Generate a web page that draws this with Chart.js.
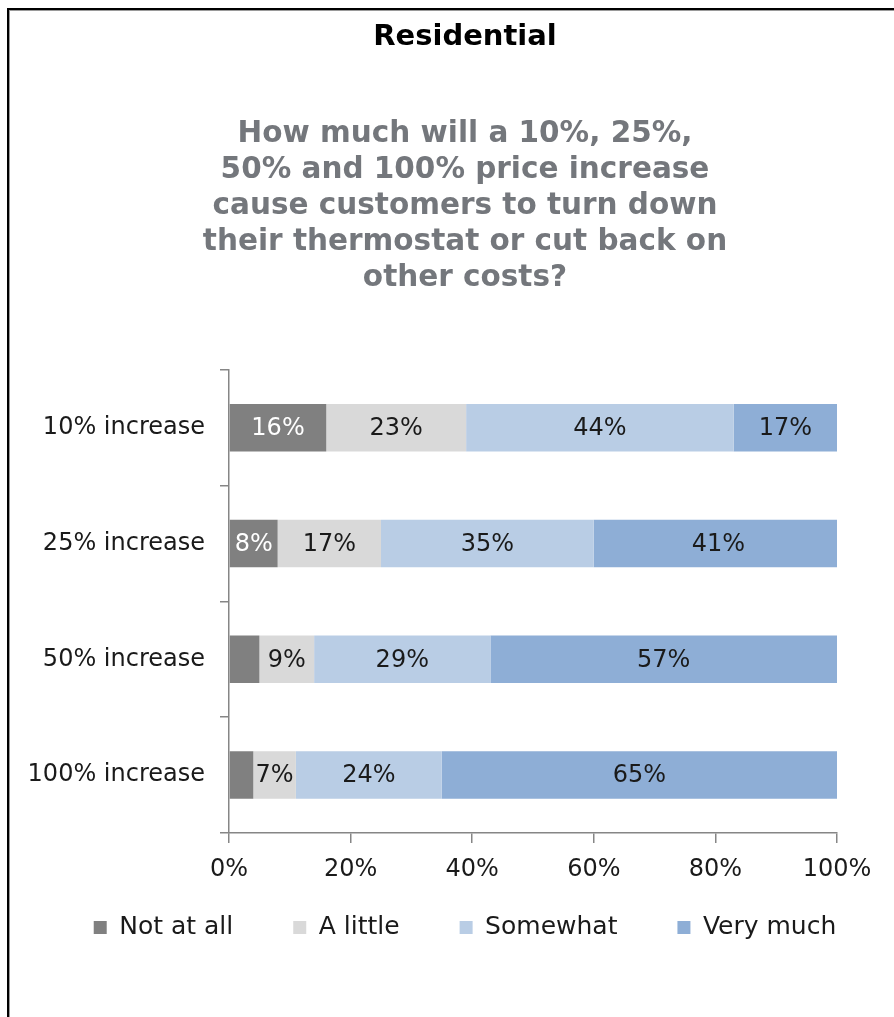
<!DOCTYPE html>
<html>
<head>
<meta charset="utf-8">
<script src="https://cdn.jsdelivr.net/npm/chart.js@4.4.1/dist/chart.umd.min.js"></script>
<style>
  html, body { margin: 0; padding: 0; background: #fff; }
  #wrap { position: relative; width: 894px; height: 1017px; overflow: hidden; }
  #frame {
    position: absolute; left: 7px; top: 8px; width: 900px; height: 1020px;
    border-left: 2px solid #000; border-top: 2px solid #000;
    box-shadow: inset 1px 1px 0 #9a9a9a;
  }
  canvas { position: absolute; left: 0; top: 0; }
</style>
</head>
<body>
<div id="wrap">
  <div id="frame"></div>
  <!-- canvas is a little wider than the window so the titles centre where the reference does -->
  <canvas id="chart" width="930" height="1017"></canvas>
</div>
<script>
const categories = ["10% increase", "25% increase", "50% increase", "100% increase"];
const seriesNames = ["Not at all", "A little", "Somewhat", "Very much"];
const notAtAll = [16, 8, 5, 4];
const aLittle = [23, 17, 9, 7];
const somewhat = [44, 35, 29, 24];
const veryMuch = [17, 41, 57, 65];
// which "Not at all" segments carry a printed label (the small ones are blank)
const showNotAtAll = [true, true, false, false];
const xTicks = [0, 20, 40, 60, 80, 100];

const colors = ["#808080", "#d9d9d9", "#b9cde5", "#8eaed6"];
const labelColors = ["#ffffff", "#1a1a1a", "#1a1a1a", "#1a1a1a"];
const FONT = "'DejaVu Sans', Verdana, sans-serif";

// ---------- Data labels inside the bars ----------
const barLabels = {
  id: "barLabels",
  beforeDraw(chart) {
    // let the x tick labels run below the (short) axis box without being clipped
    chart.scales.x._computeLabelArea = () => undefined;
  },
  afterDatasetsDraw(chart) {
    const ctx = chart.ctx;
    ctx.save();
    ctx.font = "24px " + FONT;
    ctx.textAlign = "center";
    ctx.textBaseline = "middle";
    chart.data.datasets.forEach((ds, di) => {
      const meta = chart.getDatasetMeta(di);
      meta.data.forEach((bar, i) => {
        if (di === 0 && !showNotAtAll[i]) return;
        const x = (bar.x + bar.base) / 2;
        ctx.fillStyle = labelColors[di];
        ctx.fillText(ds.data[i] + "%", x, bar.y + 1);
      });
    });
    ctx.restore();
  }
};

const datasets = [notAtAll, aLittle, somewhat, veryMuch].map((vals, i) => ({
  label: seriesNames[i],
  data: vals,
  backgroundColor: colors[i],
  borderWidth: 0,
  categoryPercentage: 1,
  barPercentage: 0.41
}));

new Chart(document.getElementById("chart"), {
  type: "bar",
  data: { labels: categories, datasets },
  plugins: [barLabels],
  options: {
    responsive: false,
    animation: false,
    indexAxis: "y",
    layout: { padding: { left: 0, right: 0, bottom: 67 } },
    plugins: {
      tooltip: { enabled: false },
      title: {
        display: true,
        text: "Residential",
        color: "#000",
        font: { family: FONT, size: 29, weight: "bold", lineHeight: 1.2 },
        padding: { top: 20, bottom: 62 }
      },
      subtitle: {
        display: true,
        text: [
          "How much will a 10%, 25%,",
          "50% and 100% price increase",
          "cause customers to turn down",
          "their thermostat or cut back on",
          "other costs?"
        ],
        color: "#74777c",
        font: { family: FONT, size: 29.5, weight: "bold", lineHeight: 36 / 29.5 },
        padding: { top: 0, bottom: 73 }
      },
      legend: {
        position: "bottom",
        labels: {
          color: "#1a1a1a",
          font: { family: FONT, size: 25 },
          boxWidth: 13,
          boxHeight: 13,
          padding: 60
        }
      }
    },
    scales: {
      x: {
        stacked: true,
        min: 0,
        max: 100,
        afterBuildTicks: (s) => { s.ticks = xTicks.map(v => ({ value: v })); },
        afterFit: (s) => { s.height = 22; },
        border: { color: "#868686", width: 1.5 },
        grid: { drawOnChartArea: false, drawTicks: true, tickLength: 10, color: "#868686", lineWidth: 1.5 },
        ticks: {
          padding: 12,
          color: "#1a1a1a",
          font: { family: FONT, size: 24 },
          callback: (v) => v + "%"
        }
      },
      y: {
        stacked: true,
        afterFit: (s) => { s.width = 229; },
        border: { color: "#868686", width: 1.5 },
        grid: { offset: true, drawOnChartArea: false, drawTicks: true, tickLength: 9, color: "#868686", lineWidth: 1.5 },
        ticks: {
          padding: 15,
          color: "#1a1a1a",
          font: { family: FONT, size: 24 }
        }
      },
      // empty spacer on the right so the plot ends where the reference does
      spacer: {
        type: "category",
        labels: categories,
        position: "right",
        afterFit: (s) => { s.width = 93; },
        border: { display: false },
        grid: { display: false },
        ticks: { display: false }
      }
    }
  }
});
</script>
</body>
</html>
